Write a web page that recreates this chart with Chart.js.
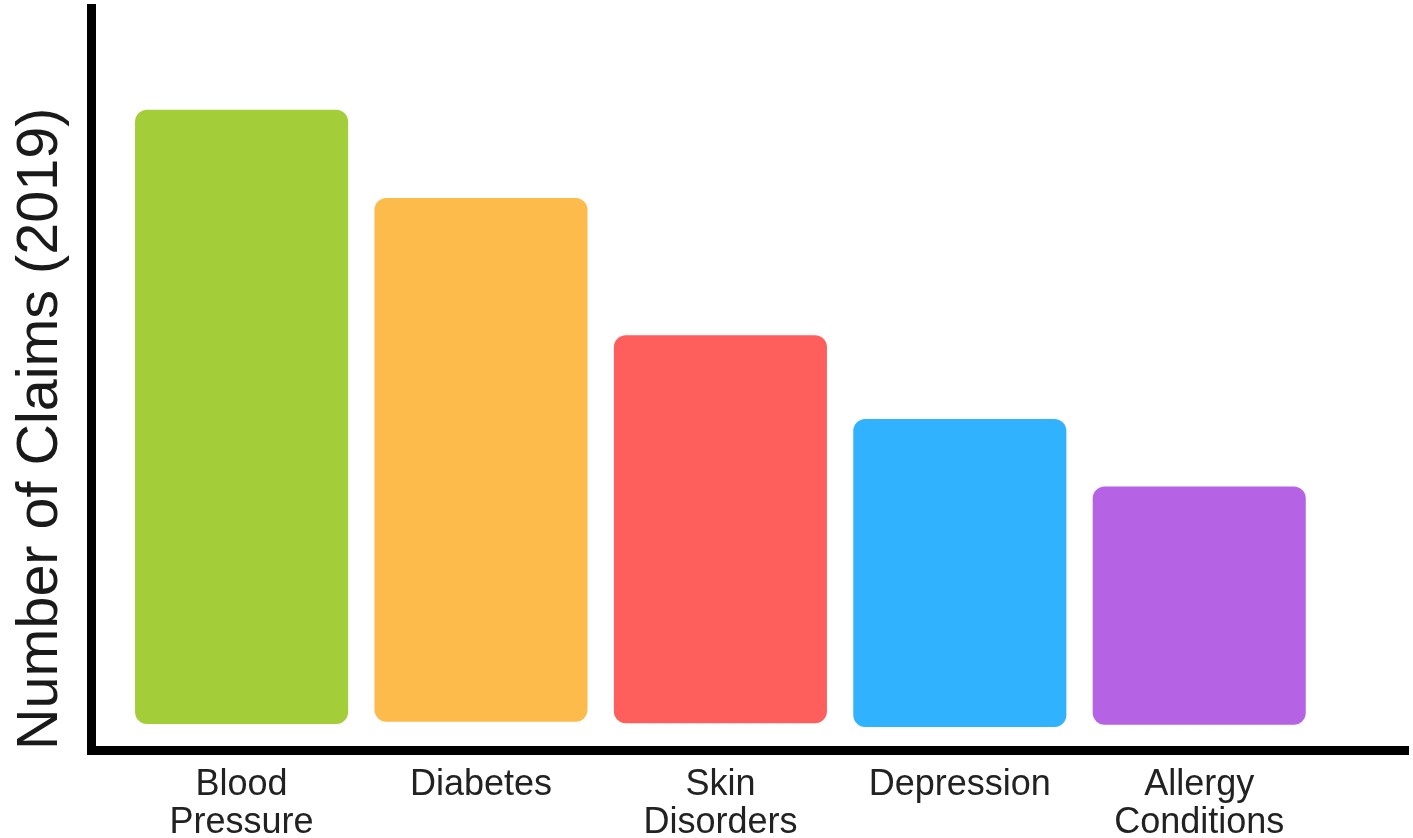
<!DOCTYPE html>
<html>
<head>
<meta charset="utf-8">
<script src="https://cdn.jsdelivr.net/npm/chart.js@4"></script>
<style>
  html, body { margin: 0; padding: 0; background: #ffffff; }
  #wrap { width: 1413px; height: 838px; }
</style>
</head>
<body>
<div id="wrap"><canvas id="c" width="1413" height="838"></canvas></div>
<script>
const categories = ['Blood Pressure', 'Diabetes', 'Skin Disorders', 'Depression', 'Allergy Conditions'];
const tickLabels = [['Blood', 'Pressure'], ['Diabetes'], ['Skin', 'Disorders'], ['Depression'], ['Allergy', 'Conditions']];
const claims = [86.3, 74.4, 55.9, 44.6, 35.5];
const barBases = [3.5, 3.8, 3.6, 3.1, 3.4];
const barColors = ['#a3cd39', '#fdbb4b', '#fe5e5c', '#30b2fe', '#b562e4'];
const yTitle = 'Number of Claims (2019)';

const points = categories.map((c, i) => ({ x: i, y: [barBases[i], claims[i]] }));

new Chart(document.getElementById('c'), {
  type: 'bar',
  data: {
    datasets: [{
      label: 'Claims',
      data: points,
      backgroundColor: barColors,
      borderWidth: 0,
      borderRadius: 12,
      borderSkipped: false,
      categoryPercentage: 1,
      barPercentage: 0.89
    }]
  },
  options: {
    responsive: false,
    animation: false,
    layout: { padding: { top: 8, right: 5, left: 0, bottom: 0 } },
    plugins: { legend: { display: false }, tooltip: { enabled: false } },
    scales: {
      x: {
        type: 'linear',
        min: -0.629,
        max: 4.872,
        offset: false,
        grid: { display: false, drawTicks: false, offset: false },
        border: { display: true, color: '#000000', width: 9 },
        ticks: {
          stepSize: 1,
          includeBounds: false,
          autoSkip: false,
          maxRotation: 0,
          padding: 16,
          color: '#222222',
          font: { family: '"Liberation Sans", Arial, sans-serif', size: 36, lineHeight: 1.06 },
          callback: (value) => Number.isInteger(value) && tickLabels[value] ? tickLabels[value] : ''
        },
        afterFit: (scale) => { scale.height = 88; }
      },
      y: {
        min: 0,
        max: 100,
        grid: { display: false, drawTicks: false },
        border: { display: true, color: '#000000', width: 9 },
        ticks: { display: false },
        title: {
          display: true,
          text: yTitle,
          align: 'start',
          color: '#1a1a1a',
          font: { family: '"Liberation Sans", Arial, sans-serif', size: 57.5, lineHeight: 1 },
          padding: { top: 12, bottom: 0 }
        },
        afterFit: (scale) => { scale.width = 91; }
      }
    }
  }
});
</script>
</body>
</html>
